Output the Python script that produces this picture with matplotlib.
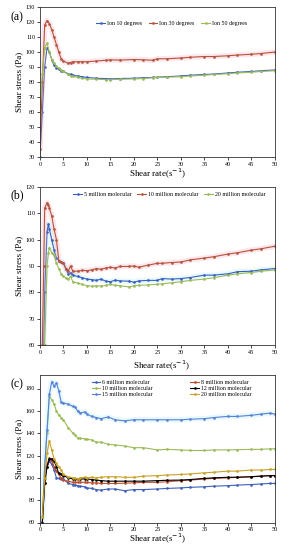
import numpy as np
import matplotlib.pyplot as plt

plt.rcParams['font.family'] = ['Liberation Serif', 'DejaVu Serif']

# ---- panel (a): ion degrees ----
xa = [0, 0.5, 1.0, 1.5, 2.0, 2.5, 3.0, 3.5, 4.0, 4.5, 5.0, 6.0, 6.5, 7, 8, 9, 10, 12, 14, 15, 17,
      20, 22, 24, 25, 27, 30, 32, 35, 37, 40, 42, 45, 47, 50]
ion10 = [30, 60, 90, 103, 100, 95, 91, 89.5, 88.5, 87.5, 87, 85.5, 85, 84.5, 84, 83.5, 83, 82.5, 82.2, 82,
         82.3, 82.5, 82.8, 83, 83.2, 83.5, 84, 84.5, 85, 85.3, 86, 86.5, 87, 87.5, 88]
ion30 = [35, 80, 118, 121, 119, 115, 110, 105, 100, 95.5, 94, 92.5, 93, 93.5, 93.5, 93.5, 93.5, 94, 94.5, 94.8, 94.6,
         95, 94.8, 94.5, 95.5, 95.5, 96, 96.5, 97, 97, 97.5, 98, 98.5, 99, 100]
ion50 = [60, 85, 103, 106, 100, 95, 93, 90.5, 89, 88, 87, 85, 84, 83.8, 83, 82.5, 82, 81.8, 81.6, 81.5, 81.8,
         82, 82.3, 82.8, 83, 83.2, 83.5, 84, 84.5, 85, 85.5, 86, 86.5, 87, 87.5]

# ---- panel (b): molecular weight ----
xb = [0.5, 0.8, 1.0, 1.5, 1.8, 2.0, 2.5, 3.0, 3.5, 4.0, 4.5, 5.0, 5.5, 6.0, 6.5, 7.0, 8, 9, 10, 11, 12,
      13, 14, 15, 16, 17, 19, 20, 21, 23, 25, 26, 28, 30, 32, 35, 37, 40, 42, 45, 47, 50]
m5 = [45, 60, 80, 103, 106, 104, 100, 96, 93, 92, 91.5, 91, 89, 87, 87.5, 86.5, 86, 85.5, 85, 84.8, 84.5,
      85, 84.2, 84, 84.6, 84.3, 84.2, 83.8, 84.3, 84.5, 84.5, 85.2, 85, 85.2, 85.6, 86.5, 86.5, 87, 87.8, 88, 88.5, 89]
m10 = [60, 90, 112, 114, 113, 112, 109, 104, 100, 92, 91.5, 91, 89, 88, 90, 88, 88, 88.3, 88.2, 88.5, 89,
       88.7, 89.2, 89.5, 89.2, 89.8, 89.8, 90, 89.5, 90.3, 91, 91, 91.3, 91.5, 92.3, 93, 93.5, 94.5, 95, 96, 96.5, 97.5]
m20 = [40, 50, 60, 90, 95, 97, 95, 94, 91, 89, 87, 86, 85.5, 85, 86, 84, 83.5, 83, 82.5, 82.3, 82.5,
       82.3, 82.6, 83, 82.6, 82.5, 82, 82.5, 82.6, 82.8, 83, 83.2, 83.6, 84, 84.5, 85, 85.5, 86.5, 87, 87.5, 88, 88.5]

# ---- panel (c) ----
xc = [0.5, 1.0, 1.5, 2.0, 2.5, 3.0, 3.5, 4.0, 4.5, 5.0, 6.0, 7.0, 7.5, 8.0, 8.5, 9.5, 10, 11, 12, 13,
      14.5, 16, 18, 20, 22, 25, 27, 30, 32, 35, 37, 40, 42, 45, 47, 49, 50]
c6 = [60, 100, 110, 115, 112, 107, 100, 99.5, 99, 99, 95, 94, 93.5, 93, 92.5, 92, 91, 90.5, 89.5, 89,
      90, 90, 88.5, 89.5, 89.5, 90, 90.5, 91, 91.5, 92, 92.5, 93, 93.5, 94, 94.5, 95, 95]
c8 = [60, 95, 112, 118, 115, 110, 106, 103, 100, 98, 97, 96, 96, 96, 96, 96, 96, 95.5, 95.5, 95,
      95, 95, 95.2, 95.5, 96, 96, 96.5, 97.5, 98, 99, 99.5, 100, 100.5, 101, 101.5, 102, 102]
c10 = [65, 110, 140, 173, 170, 166, 160, 156, 154, 152, 145, 140, 138, 136, 135.5, 135, 134.5, 134, 132, 132,
       130, 129.5, 128.5, 127, 127, 125, 125.5, 125, 124.5, 124.5, 125, 125, 125.2, 125.5, 125.5, 126, 126]
c12 = [60, 95, 110, 117, 117, 115, 110, 104, 103, 102, 100, 99, 99, 99, 99, 99, 99, 98.5, 98, 97.5,
       97, 97, 97, 97, 97, 97.5, 97.8, 98, 98.5, 99.5, 100, 100.5, 100.5, 101, 101.5, 102, 102]
c15 = [60, 110, 143, 175, 186, 182, 185, 178, 168, 167, 166, 164, 163, 160, 158, 159, 157, 155, 154, 153,
       154.5, 152, 151, 152, 152, 152, 152, 152, 152.5, 153, 154, 155, 155, 156, 157, 158, 157]
c20 = [65, 100, 122, 133, 125, 117, 113, 110, 107, 103, 101, 100, 99.5, 99, 100, 100.5, 100, 100.5, 100, 100.5,
       101, 101, 100.5, 100.5, 101.5, 102, 102.5, 103, 103.5, 104.5, 105, 106, 106, 107, 107, 107.5, 107.5]

blue = '#3B5FC0'
red = '#B5533C'
green = '#9BBB59'

fig = plt.figure(figsize=(2.94, 5.5), dpi=100)


def setup(ax, ylim, yticks, xlabel=True):
    ax.set_xlim(0, 50)
    ax.set_ylim(*ylim)
    ax.set_xticks(range(0, 51, 5))
    ax.set_yticks(yticks)
    ax.tick_params(labelsize=4.5, length=2, width=0.5, pad=1.5, direction='out')
    for s in ax.spines.values():
        s.set_linewidth(0.6)
        s.set_color('#333333')
    ax.set_ylabel('Shear stress (Pa)', fontsize=6.5, labelpad=1.5)
    if xlabel:
        ax.set_xlabel('Shear rate(s$^{-1}$)', fontsize=6.5, labelpad=0)


def series(ax, x, y, color, label, halo=None):
    if halo is not None:
        ax.plot(x, y, color=halo, lw=4, alpha=0.25, solid_capstyle='round')
    ax.plot(x, y, color=color, lw=0.8, marker='.', ms=1.8, label=label)


# (a)
ax1 = fig.add_axes([0.136, 0.715, 0.799, 0.272])
series(ax1, xa, ion10, blue, 'Ion 10 degrees')
series(ax1, xa, ion30, red, 'Ion 30 degrees', halo='#F5A0B5')
series(ax1, xa, ion50, green, 'Ion 50 degrees')
setup(ax1, (30, 130), range(30, 131, 10))
ax1.legend(loc='upper center', bbox_to_anchor=(0.56, 0.94), ncol=3, fontsize=4.2, frameon=False,
           handlelength=1.5, columnspacing=1.2, handletextpad=0.3)
fig.text(0.035, 0.963, '(a)', fontsize=8.5)

# (b)
ax2 = fig.add_axes([0.136, 0.373, 0.799, 0.287])
series(ax2, xb, m5, blue, '5 million molecular', halo='#A0E8F0')
series(ax2, xb, m10, red, '10 million molecular', halo='#F5A0B5')
series(ax2, xb, m20, green, '20 million molecular')
setup(ax2, (60, 120), range(60, 121, 10), xlabel=False)
ax2.legend(loc='upper center', bbox_to_anchor=(0.55, 1.0), ncol=3, fontsize=4.2, frameon=False,
           handlelength=1.5, columnspacing=1.0, handletextpad=0.3)
fig.text(0.035, 0.64, '(b)', fontsize=8.5)
fig.text(0.55, 0.328, 'Shear rate(s$^{-1}$)', fontsize=6.5, ha='center')

# (c)
ax3 = fig.add_axes([0.136, 0.05, 0.799, 0.268])
series(ax3, xc, c6, '#4060B8', '6 million molecular')
series(ax3, xc, c10, green, '10 million molecular')
series(ax3, xc, c15, '#5A80D8', '15 million molecular', halo='#A0E8F0')
series(ax3, xc, c8, '#C04A2A', '8 million molecular')
series(ax3, xc, c12, 'black', '12 million molecular')
series(ax3, xc, c20, '#C9A227', '20 million molecular')
setup(ax3, (60, 192), range(60, 181, 20))
h, l = ax3.get_legend_handles_labels()
ax3.legend(h, l, loc='upper center', bbox_to_anchor=(0.56, 1.0), ncol=2, fontsize=4.2, frameon=False,
           handlelength=1.5, columnspacing=6.5, handletextpad=0.3, labelspacing=0.1)
fig.text(0.035, 0.295, '(c)', fontsize=8.5)

fig.savefig('out.png', dpi=100)
